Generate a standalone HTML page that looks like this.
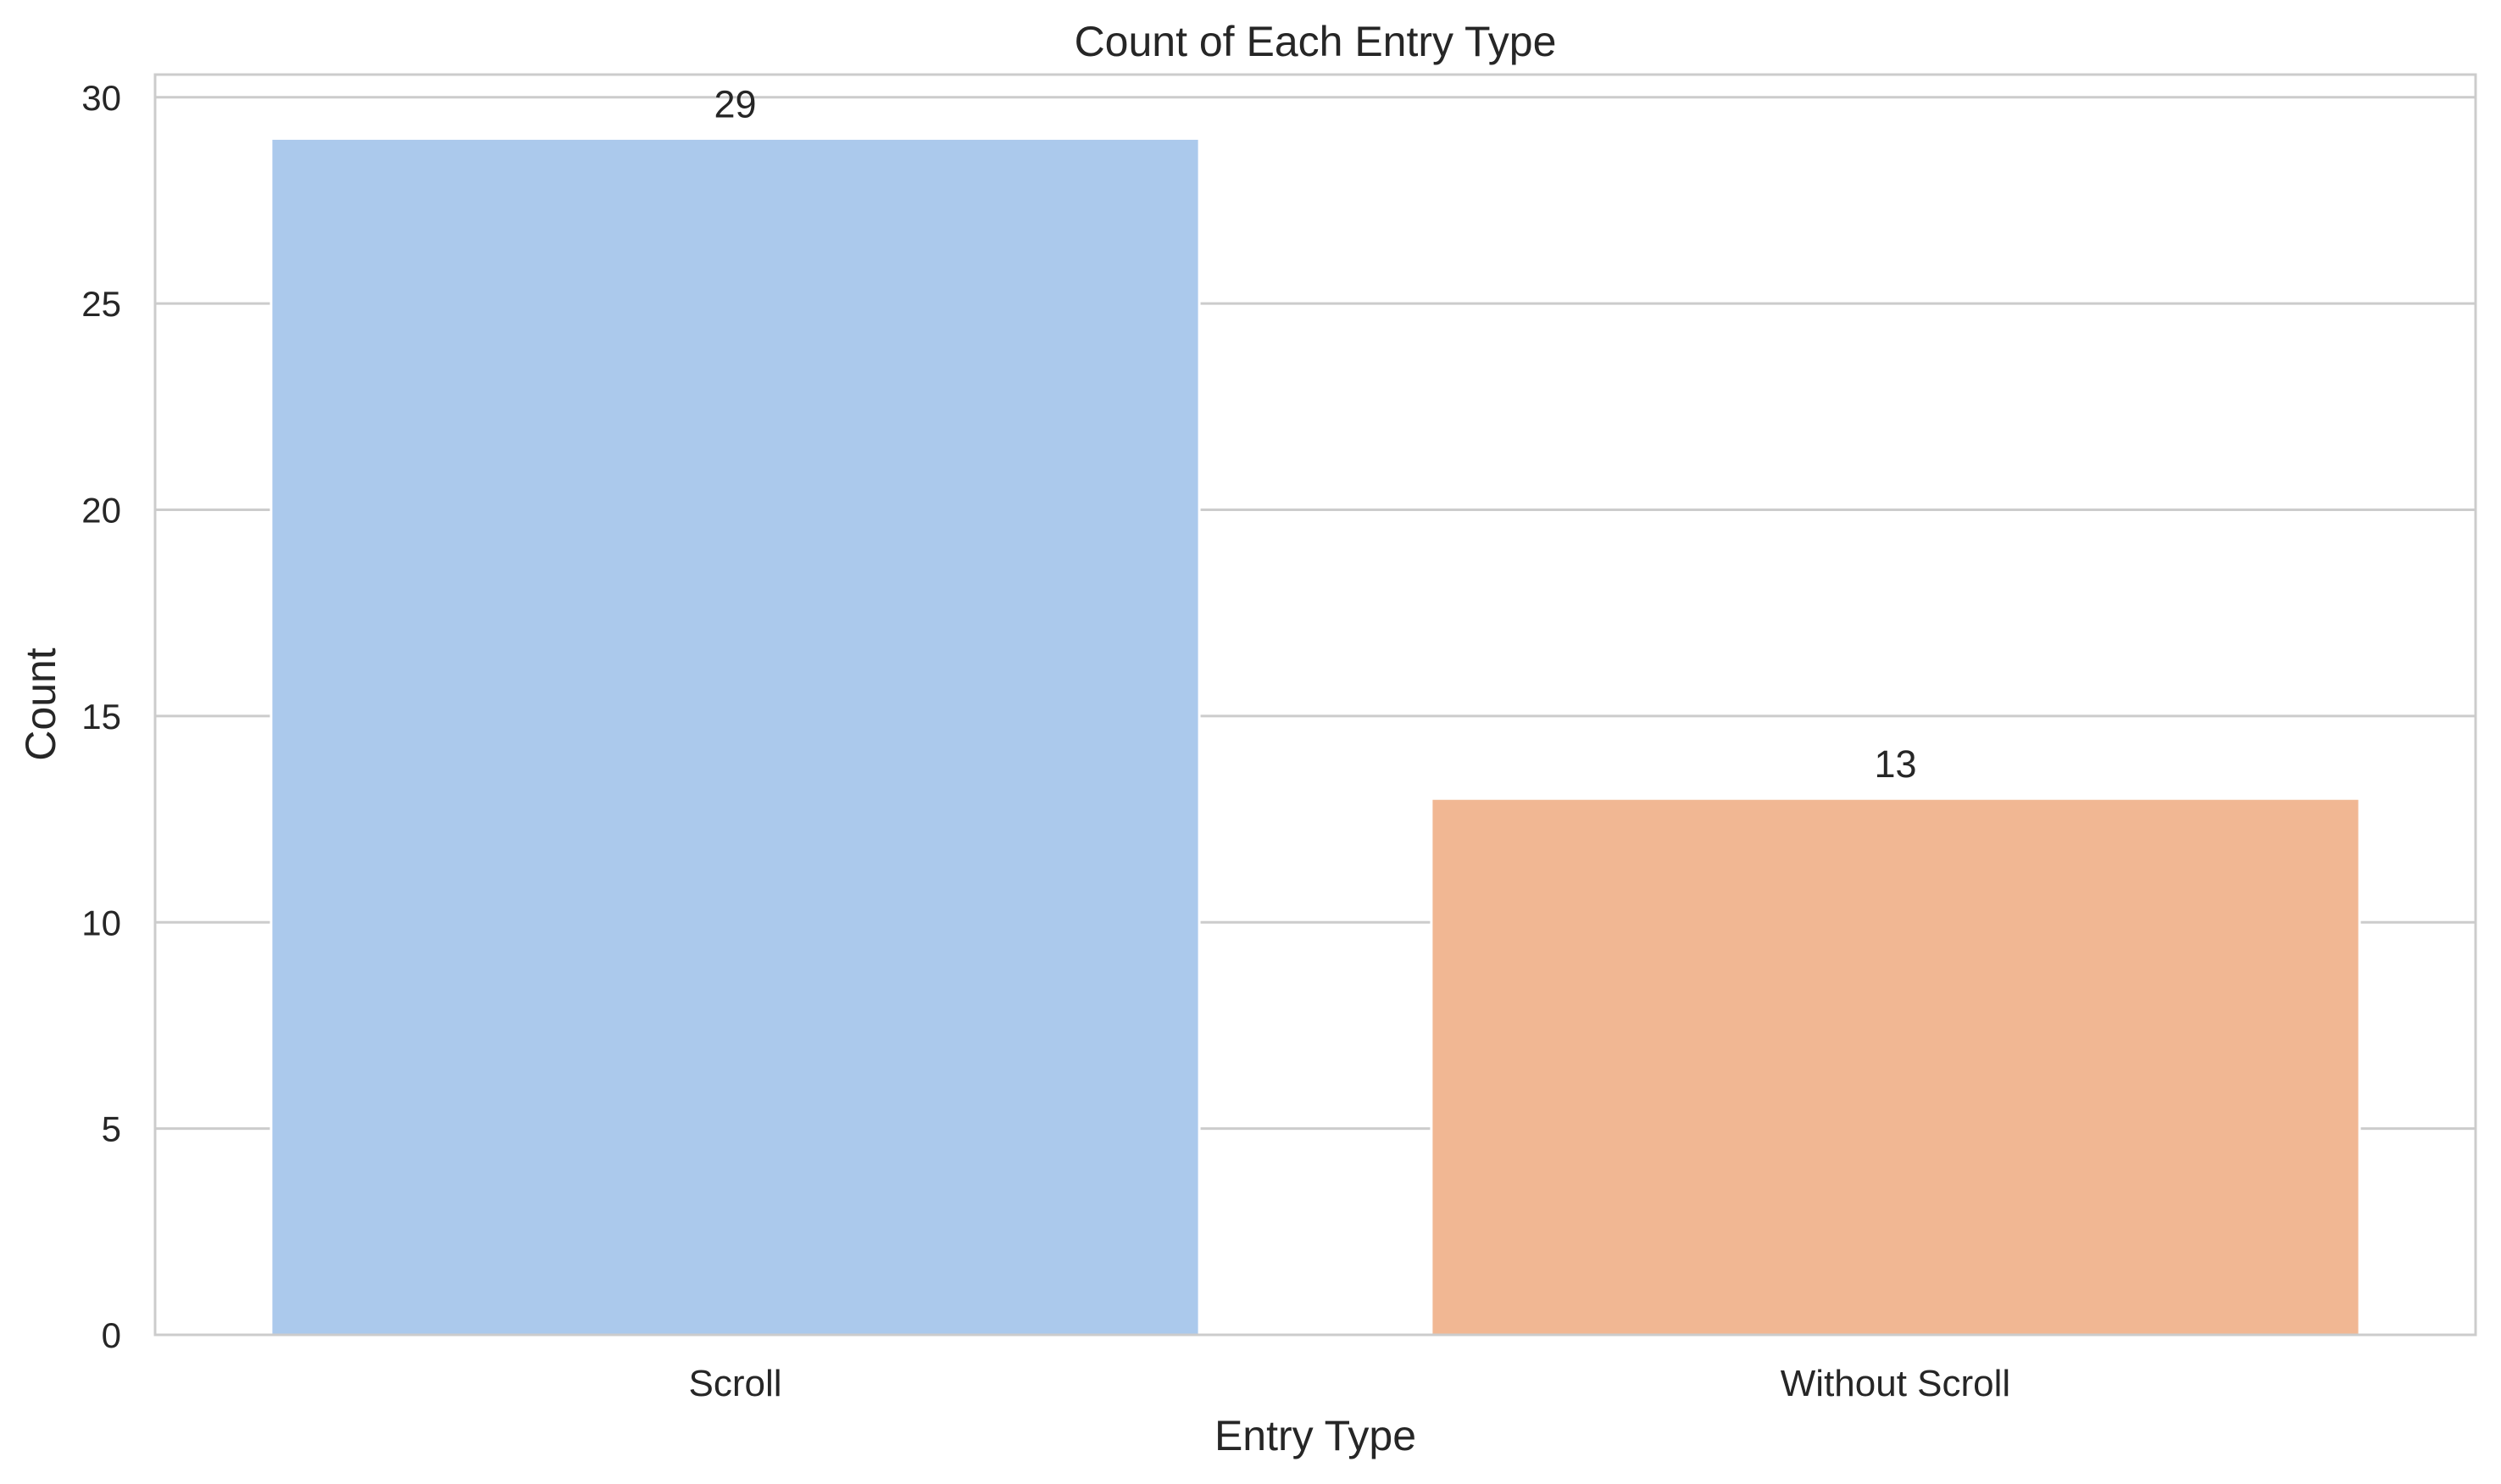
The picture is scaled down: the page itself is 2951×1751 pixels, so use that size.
<!DOCTYPE html>
<html><head><meta charset="utf-8"><style>body{margin:0;background:#fff}svg{display:block;font-family:"Liberation Sans",Arial,sans-serif}</style></head>
<body>
<svg id="chart" width="2951" height="1751" xmlns="http://www.w3.org/2000/svg">
<rect width="2951" height="1751" fill="#fff"/>
<g id="grid"></g><g id="bars"></g><g id="ticks"></g>
<rect x="183" y="88" width="2738" height="1487" fill="none" stroke="#cccccc" stroke-width="3"/>
<text x="1552" y="66" font-size="50" text-anchor="middle" fill="#262626">Count of Each Entry Type</text>
<text x="1552" y="1711" font-size="50" text-anchor="middle" fill="#262626">Entry Type</text>
<text transform="translate(65,831) rotate(-90)" font-size="50" text-anchor="middle" fill="#262626">Count</text>
</svg>
<script>
const categories = ["Scroll", "Without Scroll"];
const counts = [29, 13];
const colors = ["#abc9ec", "#f1b793"];
const yTicks = [0, 5, 10, 15, 20, 25, 30];
const L=183,R=2921,T=88,B=1575,ymin=0,ymax=30.55;
const NS="http://www.w3.org/2000/svg";
const xs=i=>L+(i+0.5)/categories.length*(R-L);
const ys=v=>B-(v-ymin)/(ymax-ymin)*(B-T);
function mk(tag,attrs,parent){const e=document.createElementNS(NS,tag);for(const k in attrs)e.setAttribute(k,attrs[k]);document.getElementById(parent).appendChild(e);return e;}
yTicks.forEach(t=>{
  const g=mk('line',{x1:L,x2:R,y1:ys(t),y2:ys(t),stroke:'#cccccc','stroke-width':3},'grid');
  
  
  const tx=mk('text',{x:143,y:ys(t)+15,'font-size':42,'text-anchor':'end',fill:'#262626'},'ticks');
  tx.textContent=t;
  
  
});
const bw=0.8/categories.length*(R-L);
categories.forEach((c,i)=>{
  const b=mk('rect',{x:xs(i)-bw/2,y:ys(counts[i]),width:bw,height:ys(0)-ys(counts[i]),fill:colors[i],stroke:'#fff','stroke-width':3},'bars');
  
  
  const v=mk('text',{x:xs(i),y:ys(counts[i])-25,'font-size':45,'text-anchor':'middle',fill:'#262626'},'bars');
  v.textContent=counts[i];
  
  
  const xl=mk('text',{x:xs(i),y:1647,'font-size':44,'text-anchor':'middle',fill:'#262626'},'ticks');
  xl.textContent=c;
  
  
});
</script>
</body></html>
